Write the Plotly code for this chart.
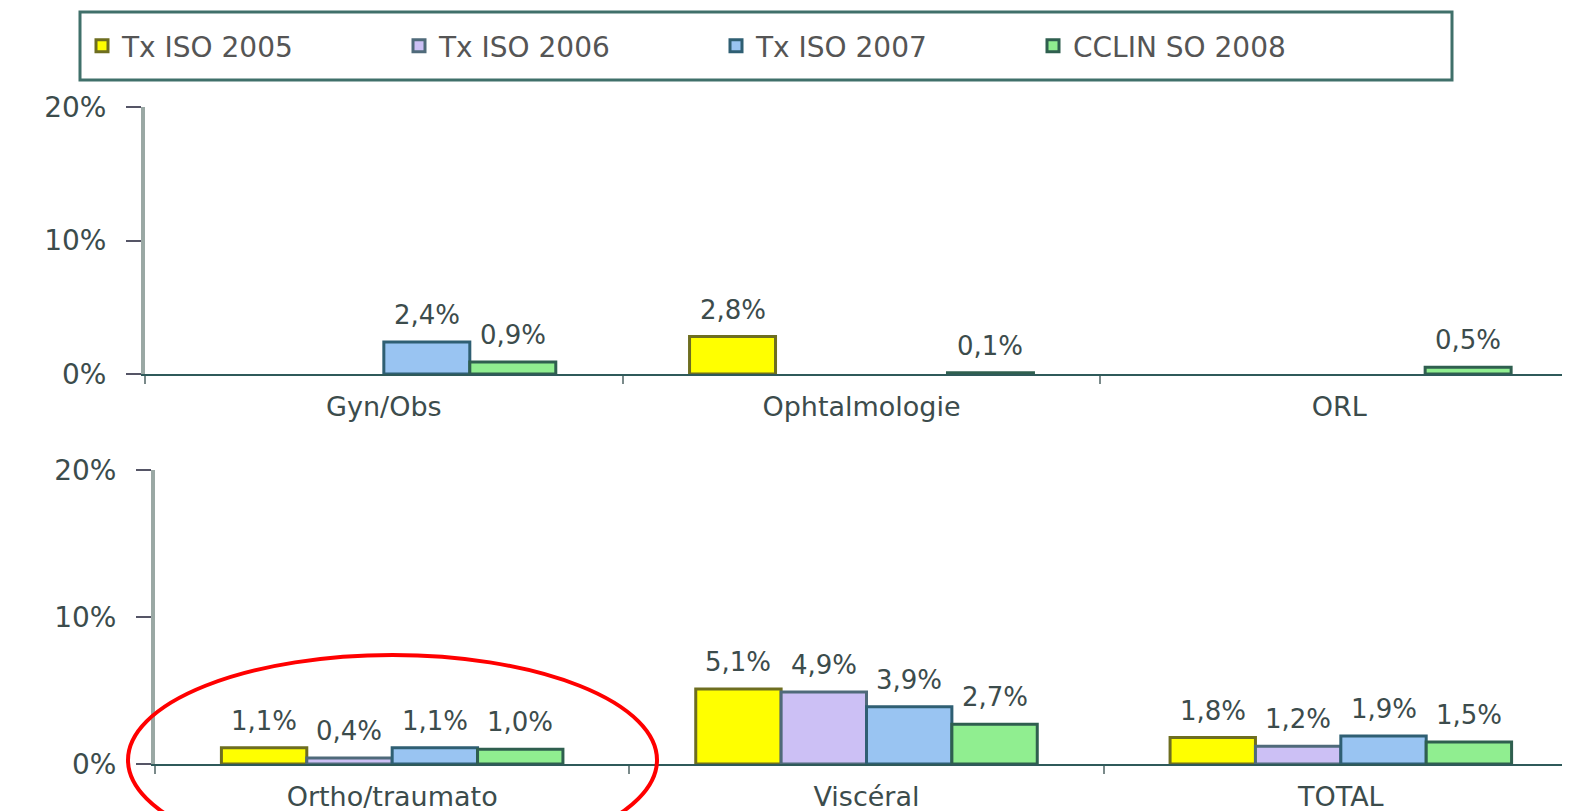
import plotly.graph_objects as go

# Data
top_categories = ['Gyn/Obs', 'Ophtalmologie', 'ORL']
bottom_categories = ['Ortho/traumato', 'Viscéral', 'TOTAL']
series_names = ['Tx ISO 2005', 'Tx ISO 2006', 'Tx ISO 2007', 'CCLIN SO 2008']

top_iso_2005 = [None, 2.8, None]
top_iso_2006 = [None, None, None]
top_iso_2007 = [2.4, None, None]
top_cclin_2008 = [0.9, 0.1, 0.5]

bottom_iso_2005 = [1.1, 5.1, 1.8]
bottom_iso_2006 = [0.4, 4.9, 1.2]
bottom_iso_2007 = [1.1, 3.9, 1.9]
bottom_cclin_2008 = [1.0, 2.7, 1.5]

y_ticks = [0, 10, 20]

top_series = [top_iso_2005, top_iso_2006, top_iso_2007, top_cclin_2008]
bottom_series = [bottom_iso_2005, bottom_iso_2006, bottom_iso_2007, bottom_cclin_2008]

fills = ['#FFFF00', '#CCC0F5', '#99C4F2', '#90EE90']
outlines = ['#6E6E20', '#4F6A7A', '#2F5F73', '#2F5F4F']

W, H = 1570, 811
OFF = 8  # page body margin
FONT = 'DejaVu Sans'
TXT = '#3c4c4c'
BAR_W = 0.72 / 4


def px(x):
    return (x - OFF) / W


def py(y):
    return 1 - (y - OFF) / H


def fmt(v):
    return f'{v:.1f}'.replace('.', ',') + '%'


fig = go.Figure()
annotations = []

for panel, (cats, series, xa, ya) in enumerate([
        (top_categories, top_series, 'x', 'y'),
        (bottom_categories, bottom_series, 'x2', 'y2')]):
    for j, vals in enumerate(series):
        fig.add_trace(go.Bar(
            x=cats, y=vals, name=series_names[j],
            marker=dict(color=fills[j], line=dict(color=outlines[j], width=3)),
            xaxis=xa, yaxis=ya, showlegend=(panel == 1),
        ))
        for i, v in enumerate(vals):
            if v is None:
                continue
            annotations.append(dict(
                x=i + (j - 1.5) * BAR_W, y=v, xref=xa, yref=ya,
                text=fmt(v), showarrow=False, yanchor='bottom', yshift=10,
                font=dict(family=FONT, size=26, color=TXT),
            ))

xaxis_style = dict(
    type='category', range=[-0.5, 2.5], tickson='boundaries',
    ticks='outside', ticklen=8, tickcolor='#7a8a8a', tickwidth=2,
    showline=True, linecolor='#2f5a5a', linewidth=2,
    showgrid=False, zeroline=False, ticklabelstandoff=8,
    tickfont=dict(family=FONT, size=27, color=TXT),
)
yaxis_style = dict(
    range=[0, 20], tickmode='array', tickvals=y_ticks,
    ticktext=[f'{t}%' for t in y_ticks],
    ticks='outside', ticklen=15, tickcolor='#556', tickwidth=2,
    showline=True, linecolor='#9aa8a4', linewidth=4,
    showgrid=False, zeroline=False, ticklabelstandoff=14,
    tickfont=dict(family=FONT, size=28, color=TXT),
)

fig.update_layout(
    width=W, height=H,
    margin=dict(l=0, r=0, t=0, b=0, autoexpand=False),
    plot_bgcolor='white', paper_bgcolor='white',
    barmode='group', bargap=0.28, bargroupgap=0,
    xaxis=dict(xaxis_style, domain=[px(145), 1], anchor='y'),
    yaxis=dict(yaxis_style, domain=[py(374), py(107)], anchor='x'),
    xaxis2=dict(xaxis_style, domain=[px(155), 1], anchor='y2'),
    yaxis2=dict(yaxis_style, domain=[py(764), py(470)], anchor='x2'),
    legend=dict(
        orientation='h', x=px(82), y=py(46), xanchor='left', yanchor='middle',
        borderwidth=0, bgcolor='rgba(0,0,0,0)',
        entrywidth=272, entrywidthmode='pixels',
        font=dict(family=FONT, size=28, color='#555'),
    ),
    annotations=annotations,
    shapes=[
        dict(type='rect', xref='paper', yref='paper',
             x0=px(80), x1=px(1452), y0=py(80), y1=py(12),
             line=dict(color='#40706a', width=3), layer='below'),
        dict(type='circle', xref='paper', yref='paper',
             x0=px(128), x1=px(657), y0=py(865), y1=py(655),
             line=dict(color='#ff0000', width=4), layer='above'),
    ],
)

fig.write_html('out.html')
